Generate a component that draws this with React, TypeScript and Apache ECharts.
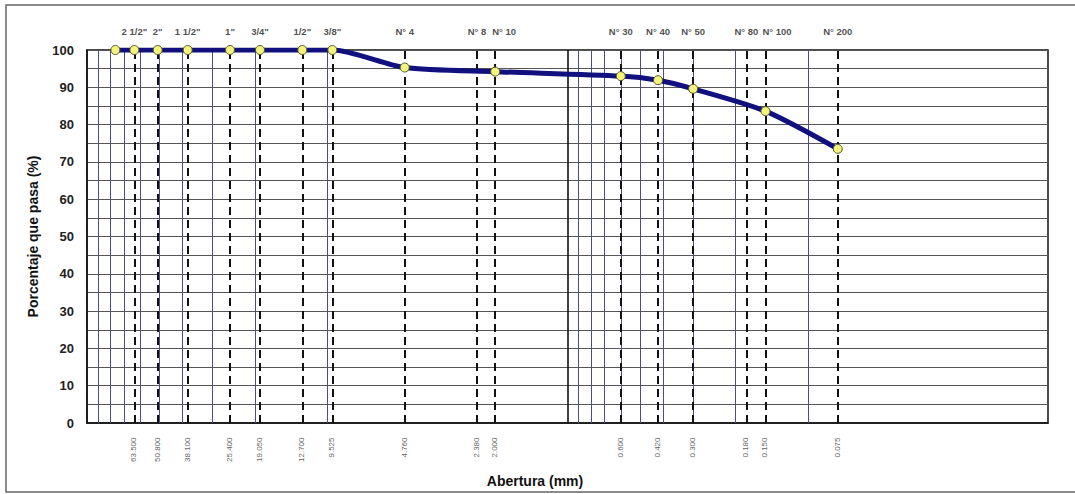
import React, { useEffect, useRef } from "react";
import * as echarts from "echarts";

// Sieves drawn as dashed reference lines
const sieveNames = ['2 1/2"', '2"', '1 1/2"', '1"', '3/4"', '1/2"', '3/8"', 'N° 4', 'N° 8', 'N° 10', 'N° 30', 'N° 40', 'N° 50', 'N° 80', 'N° 100', 'N° 200'];
const sieveOpenings = [63.5, 50.8, 38.1, 25.4, 19.05, 12.7, 9.525, 4.76, 2.38, 2.0, 0.6, 0.42, 0.3, 0.18, 0.15, 0.075];
const openingLabels = ['63.500', '50.800', '38.100', '25.400', '19.050', '12.700', '9.525', '4.760', '2.380', '2.000', '0.600', '0.420', '0.300', '0.180', '0.150', '0.075'];

// Grading curve (opening mm, % passing)
const testedSizes = [76.2, 63.5, 50.8, 38.1, 25.4, 19.05, 12.7, 9.525, 4.76, 2.0, 0.6, 0.42, 0.3, 0.15, 0.075];
const percentPassing = [100, 100, 100, 100, 100, 100, 100, 100, 95.3, 94.2, 93.0, 91.9, 89.6, 83.6, 73.5];

// Vertical grid lines of the log paper
const minorGridLines = [90, 80, 70, 60, 50, 40, 30, 20, 10, 0.9, 0.8, 0.7, 0.6, 0.5, 0.4, 0.3, 0.2, 0.1];
const majorGridLines = [1];

const FONT = "Liberation Sans, Arial, sans-serif";
const TRANSPARENT = "rgba(0,0,0,0)";

function vLine(x: number, lineStyle: any) {
  return [
    { coord: [x, 0], lineStyle },
    { coord: [x, 100] },
  ];
}

export default function App() {
  const ref = useRef<HTMLDivElement>(null);
  useEffect(() => {
    if (!ref.current) return;
    const chart = echarts.init(ref.current, null, { renderer: "svg" });

    const topLabelData = sieveOpenings.map((s, i) => {
      const crowded = i > 0 && sieveOpenings[i - 1] / s < 1.22;
      return {
        value: [s, 100],
        label: crowded ? { align: "left", offset: [-3, 0] } : undefined,
      };
    });

    const option: any = {
      animation: false,
      backgroundColor: "#ffffff",
      grid: { left: 87, right: 27, top: 50, bottom: 71, show: true, borderColor: "#111", borderWidth: 1.5 },
      xAxis: {
        type: "log",
        logBase: 10,
        min: 0.01,
        max: 100,
        inverse: true,
        axisLine: { show: true, lineStyle: { color: "#111", width: 1.5 } },
        axisTick: { show: false },
        axisLabel: { show: false },
        splitLine: { show: false },
      },
      yAxis: {
        type: "value",
        min: 0,
        max: 100,
        interval: 5,
        name: "Porcentaje que pasa (%)",
        nameLocation: "middle",
        nameGap: 47,
        nameTextStyle: { fontFamily: FONT, fontWeight: "bold", fontSize: 14, color: "#111" },
        axisLine: { show: true, lineStyle: { color: "#111", width: 1.5 } },
        axisTick: { show: false },
        axisLabel: {
          margin: 13,
          fontFamily: FONT,
          fontWeight: "bold",
          fontSize: 13,
          color: "#222",
          formatter: (v: number) => (v % 10 === 0 ? String(v) : ""),
        },
        splitLine: { show: true, lineStyle: { color: "#555", width: 1 } },
      },
      graphic: [
        {
          type: "rect",
          shape: { x: 6, y: 5, width: 1090, height: 487 },
          style: { fill: "none", stroke: "#666", lineWidth: 1.5 },
          silent: true,
          z: -1,
        },
        {
          type: "text",
          x: 535,
          y: 481,
          style: {
            text: "Abertura (mm)",
            fontFamily: FONT,
            fontWeight: "bold",
            fontSize: 14,
            fill: "#111",
            align: "center",
            verticalAlign: "middle",
          },
        },
      ],
      series: [
        {
          type: "line",
          name: "grid",
          data: [],
          silent: true,
          markLine: {
            silent: true,
            symbol: ["none", "none"],
            label: { show: false },
            precision: 6,
            data: [
              ...minorGridLines.map((v) => vLine(v, { color: "#4a4a96", width: 1, type: "solid" })),
              ...majorGridLines.map((v) => vLine(v, { color: "#111", width: 1.6, type: "solid" })),
              ...sieveOpenings.map((v) => vLine(v, { color: "#111", width: 2, type: [8, 5] })),
            ],
          },
          z: 1,
        },
        {
          type: "scatter",
          name: "top",
          data: topLabelData,
          symbolSize: 1,
          itemStyle: { color: TRANSPARENT },
          silent: true,
          label: {
            show: true,
            position: "top",
            distance: 13,
            fontFamily: FONT,
            fontWeight: "bold",
            fontSize: 9.5,
            color: "#222",
            formatter: (p: any) => sieveNames[p.dataIndex],
          },
        },
        {
          type: "scatter",
          name: "bottom",
          data: sieveOpenings.map((s) => [s, 0]),
          symbolSize: 1,
          itemStyle: { color: TRANSPARENT },
          silent: true,
          label: {
            show: true,
            position: [0, 15],
            rotate: 90,
            align: "right",
            verticalAlign: "middle",
            fontFamily: FONT,
            fontSize: 8,
            color: "#333",
            formatter: (p: any) => openingLabels[p.dataIndex],
          },
        },
        {
          type: "line",
          name: "curve",
          data: testedSizes.map((s, i) => [s, percentPassing[i]]),
          smooth: 0.25,
          lineStyle: { color: "#10107e", width: 5 },
          symbol: "circle",
          symbolSize: 9,
          itemStyle: { color: "#f4f47a", borderColor: "#55552a", borderWidth: 1 },
          z: 5,
        },
      ],
    };
    chart.setOption(option);
    return () => chart.dispose();
  }, []);
  return (
    <div
      ref={ref}
      style={{ position: "absolute", left: 0, top: 0, width: 1075, height: 494, background: "#fff" }}
    />
  );
}
